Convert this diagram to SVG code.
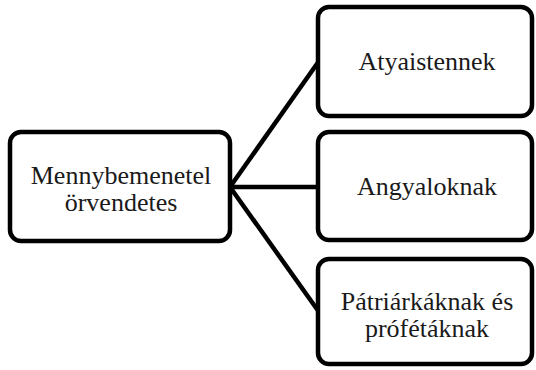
<svg xmlns="http://www.w3.org/2000/svg" width="536" height="370" viewBox="0 0 536 370">
<style>
.box{fill:#fff;stroke:#000;stroke-width:4.5}
.con{stroke:#000;stroke-width:4.5;fill:none}
.t{font-size:26px;fill:#1a1a1a;text-anchor:middle}
</style>
<rect width="536" height="370" fill="#fff"/>
<g id="connectors">
<line class="con" x1="230" y1="187" x2="319" y2="61"/>
<line class="con" x1="230" y1="187" x2="319" y2="187"/>
<line class="con" x1="230" y1="187" x2="319" y2="312"/>
</g>
<g font-family="Liberation Serif, Tinos, Noto Serif, DejaVu Serif, Times New Roman, Times, FreeSerif, serif">
<g id="node-root">
<rect class="box" x="10" y="132" width="220" height="109" rx="11"/>
<text class="t" x="121" y="184">Mennybemenetel</text>
<text class="t" x="121" y="211">örvendetes</text>
</g>
<g id="node-atyaistennek">
<rect class="box" x="318" y="7" width="214" height="109" rx="11"/>
<text class="t" x="427" y="70">Atyaistennek</text>
</g>
<g id="node-angyaloknak">
<rect class="box" x="318" y="132" width="214" height="108" rx="11"/>
<text class="t" x="427" y="195">Angyaloknak</text>
</g>
<g id="node-patriarkaknak">
<rect class="box" x="318" y="259" width="214" height="105" rx="11"/>
<text class="t" x="427" y="310">Pátriárkáknak és</text>
<text class="t" x="427" y="337">prófétáknak</text>
</g>
</g>
</svg>
